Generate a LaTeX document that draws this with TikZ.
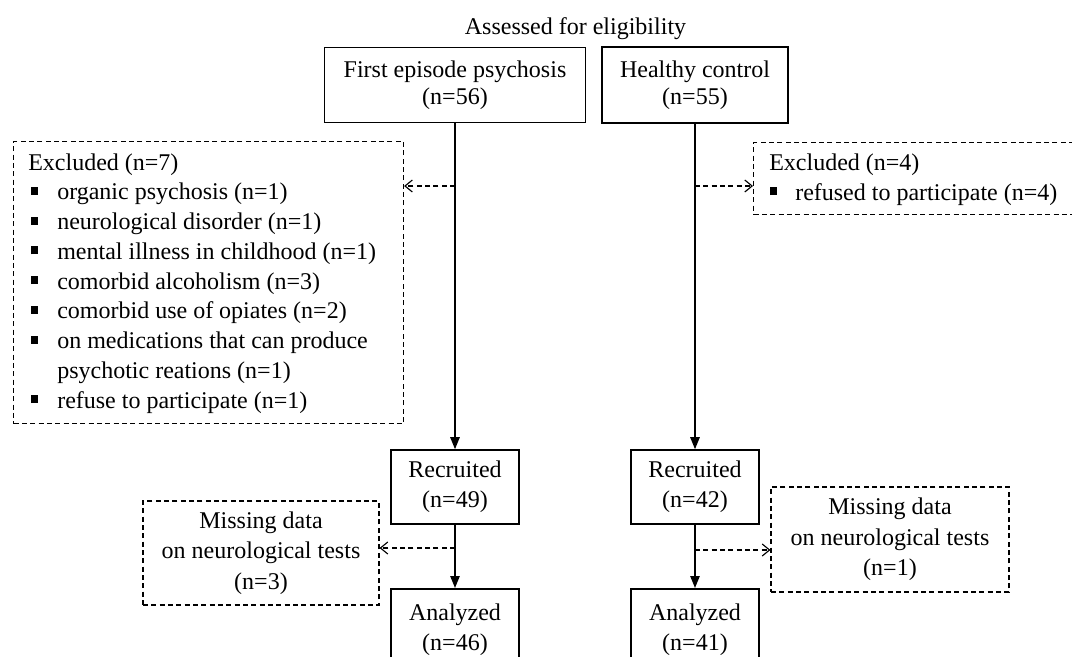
\documentclass[tikz,border=0pt]{standalone}
\usepackage{fontspec}
\setmainfont{Liberation Serif}
\usetikzlibrary{arrows.meta}
\newcommand{\sqbul}{\rule[3.75pt]{5pt}{6pt}}
\begin{document}
\begin{tikzpicture}[x=0.75pt,y=-0.75pt,
  font=\fontsize{18}{22.5}\selectfont,
  box/.style={draw, line width=1.2pt, inner sep=0pt, align=center},
  dbox/.style={draw, line width=0.85pt, dash pattern=on 3.75pt off 2.5pt, inner sep=0pt, align=center},
  arr/.style={line width=1.2pt, -{Triangle[length=9pt,width=7pt]}},
  darr/.style={line width=0.85pt, dash pattern=on 3.75pt off 2.5pt, -{Straight Barb[length=5.5pt,width=9pt]}},
  txt/.style={anchor=base west, inner sep=0pt}]
\useasboundingbox (0,0) rectangle (1072,657);
\clip (0,0) rectangle (1072,657);

\node[anchor=base, inner sep=0pt] (title) at (575.5,34) {Assessed for eligibility};

\node[box, minimum width=195.75pt, minimum height=56.25pt, font=\fontsize{18}{20.25}\selectfont] (fep) at (455,85) {First episode psychosis\\(n=56)};
\node[box, minimum width=139.5pt, minimum height=57pt, font=\fontsize{18}{20.25}\selectfont] (hc) at (695,85) {Healthy control\\(n=55)};

\node[box, minimum width=96pt, minimum height=55.5pt] (rec1) at (455,487) {Recruited\\(n=49)};
\node[box, minimum width=96pt, minimum height=55.5pt] (rec2) at (695,487) {Recruited\\(n=42)};
\node[box, minimum width=96pt, minimum height=61.5pt, anchor=north] (ana1) at (455,588) {Analyzed\\(n=46)};
\node[box, minimum width=96pt, minimum height=61.5pt, anchor=north] (ana2) at (695,588) {Analyzed\\(n=41)};

% excluded boxes
\node[dbox, minimum width=292.5pt, minimum height=211.5pt, anchor=north west] (exL) at (13,141) {};
\node[txt] (exLt) at (28,170) {Excluded (n=7)};
\node[txt] (exL1) at (31,199.75) {\makebox[19.5pt][l]{\sqbul}organic psychosis (n=1)};
\node[txt] (exL2) at (31,229.5) {\makebox[19.5pt][l]{\sqbul}neurological disorder (n=1)};
\node[txt] (exL3) at (31,259.25) {\makebox[19.5pt][l]{\sqbul}mental illness in childhood (n=1)};
\node[txt] (exL4) at (31,289) {\makebox[19.5pt][l]{\sqbul}comorbid alcoholism (n=3)};
\node[txt] (exL5) at (31,318.75) {\makebox[19.5pt][l]{\sqbul}comorbid use of opiates (n=2)};
\node[txt] (exL6) at (31,348.5) {\makebox[19.5pt][l]{\sqbul}on medications that can produce};
\node[txt] (exL6b) at (57,378.25) {psychotic reations (n=1)};
\node[txt] (exL7) at (31,408) {\makebox[19.5pt][l]{\sqbul}refuse to participate (n=1)};

\node[dbox, minimum width=290pt, minimum height=54pt, anchor=north west] (exR) at (753,142) {};
\node[txt] (exRt) at (769,170) {Excluded (n=4)};
\node[txt] (exR1) at (770,200) {\makebox[18.75pt][l]{\sqbul}refused to participate (n=4)};

% missing data boxes
\node[dbox, minimum width=177pt, minimum height=78pt, font=\fontsize{18}{22.9}\selectfont] (mis1) at (261,553) {Missing data\\on neurological tests\\(n=3)};
\node[dbox, minimum width=178.5pt, minimum height=78.75pt, font=\fontsize{18}{22.9}\selectfont] (mis2) at (890,539.5) {Missing data\\on neurological tests\\(n=1)};

% connectors
\draw[arr] (fep) -- (rec1);
\draw[arr] (hc) -- (rec2);
\draw[arr] (rec1) -- (ana1);
\draw[arr] (rec2) -- (ana2);

\coordinate (jL) at (455,186);
\coordinate (jR) at (695,186);
\coordinate (jL2) at (455,548);
\coordinate (jR2) at (695,550);
\draw[darr] (jL) -- (exL.east |- jL);
\draw[darr] (jR) -- (exR.west |- jR);
\draw[darr] (jL2) -- (mis1.east |- jL2);
\draw[darr] (jR2) -- (mis2.west |- jR2);
\end{tikzpicture}
\end{document}
